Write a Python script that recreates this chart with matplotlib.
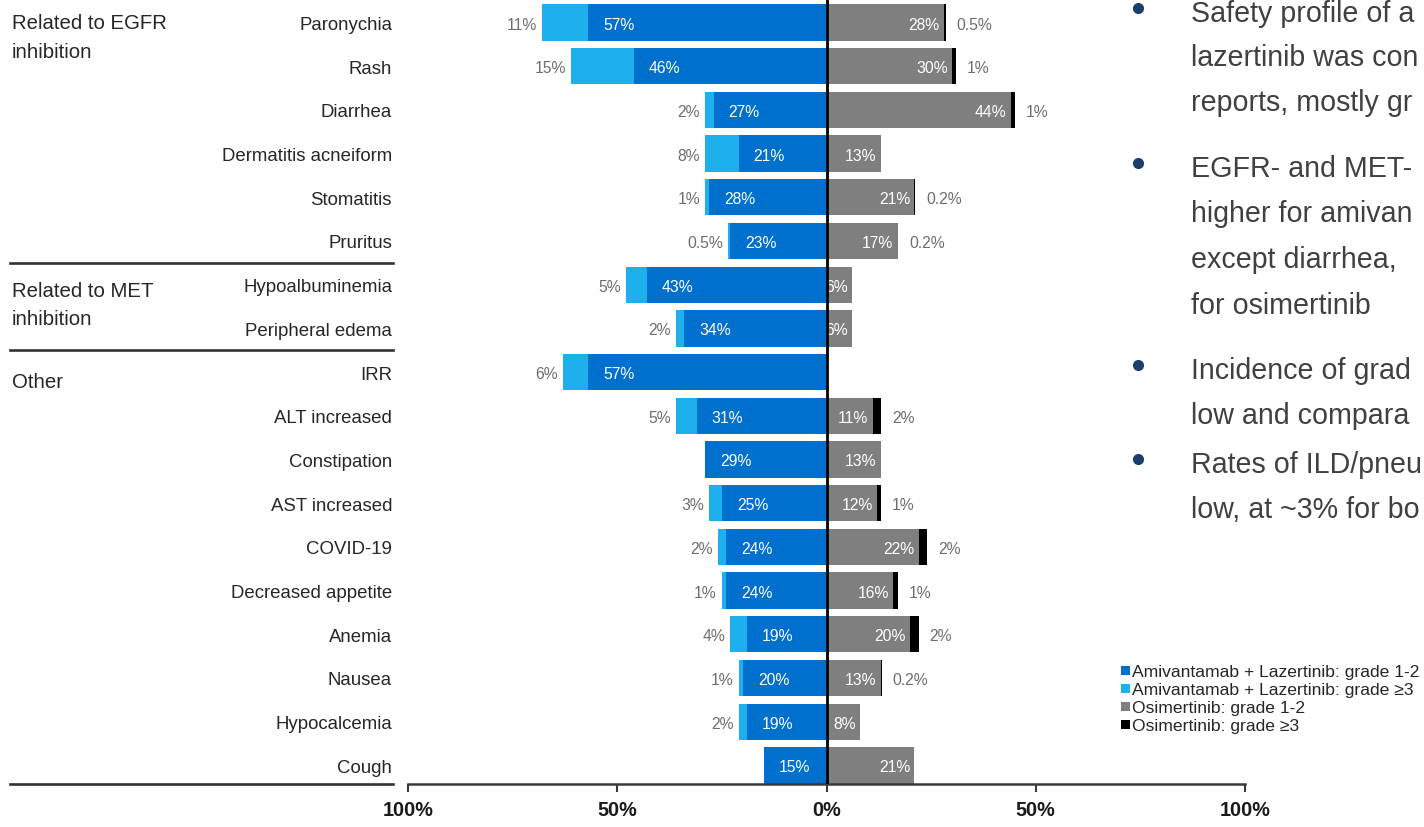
import matplotlib
matplotlib.use("Agg")
import numpy as np
import matplotlib.pyplot as plt
from matplotlib import font_manager as fm
from matplotlib.transforms import blended_transform_factory
from matplotlib.lines import Line2D
from matplotlib.patches import Rectangle

# ---------------- data ----------------
categories = ["Paronychia", "Rash", "Diarrhea", "Dermatitis acneiform", "Stomatitis",
              "Pruritus", "Hypoalbuminemia", "Peripheral edema", "IRR", "ALT increased",
              "Constipation", "AST increased", "COVID-19", "Decreased appetite", "Anemia",
              "Nausea", "Hypocalcemia", "Cough"]
ami_grade12 = [57, 46, 27, 21, 28, 23, 43, 34, 57, 31, 29, 25, 24, 24, 19, 20, 19, 15]
ami_grade3 = [11, 15, 2, 8, 1, 0.5, 5, 2, 6, 5, 0, 3, 2, 1, 4, 1, 2, 0]
osi_grade12 = [28, 30, 44, 13, 21, 17, 6, 6, 0, 11, 13, 12, 22, 16, 20, 13, 8, 21]
osi_grade3 = [0.5, 1, 1, 0, 0.2, 0.2, 0, 0, 0, 2, 0, 1, 2, 1, 2, 0.2, 0, 0]

group_names = [["Related to EGFR", "inhibition"], ["Related to MET", "inhibition"], ["Other"]]
group_first_row = [0, 6, 8]
group_separators = [5.5, 7.5]

xtick_values = [-100, -50, 0, 50, 100]
xtick_labels = ["100%", "50%", "0%", "50%", "100%"]

legend_labels = ["Amivantamab + Lazertinib: grade 1-2", "Amivantamab + Lazertinib: grade \u22653",
                 "Osimertinib: grade 1-2", "Osimertinib: grade \u22653"]

# right-hand bullet text (as far as it is visible in the cropped slide)
bullets = [
    ["Safety profile of a", "lazertinib was con", "reports, mostly gr"],
    ["EGFR- and MET-", "higher for amivan", "except diarrhea,", "for osimertinib"],
    ["Incidence of grad", "low and compara"],
    ["Rates of ILD/pneu", "low, at ~3% for bo"],
]

# ---------------- style ----------------
DB = "#0070CE"
LB = "#1EB0EC"
GR = "#7F7F7F"
BK = "#000000"
colors = [DB, LB, GR, BK]
TXT = "#262626"
OUT = "#6E6E6E"

avail = {f.name for f in fm.fontManager.ttflist}
if "Liberation Sans Narrow" in avail:
    NARROW, NSC = "Liberation Sans Narrow", 1.0
else:
    NARROW, NSC = "Liberation Sans", 0.84
REG = "Liberation Sans" if "Liberation Sans" in avail else "DejaVu Sans"

W, H = 1424, 828
fig = plt.figure(figsize=(W / 100, H / 100), dpi=100)

# axes geometry in pixels
ax_left, ax_right = 408, 1245
row0_px, pitch_px, axis_px = 23.5, 43.7, 785
ax = fig.add_axes([ax_left / W, 1 - axis_px / H, (ax_right - ax_left) / W, axis_px / H])
n = len(categories)
ax.set_xlim(-100, 100)
ax.set_ylim((axis_px - row0_px) / pitch_px, -row0_px / pitch_px)

y = np.arange(n)
a12 = np.array(ami_grade12, float)
a3 = np.array(ami_grade3, float)
o12 = np.array(osi_grade12, float)
o3 = np.array(osi_grade3, float)
bh = 0.83
ax.barh(y, -a12, height=bh, color=DB, linewidth=0)
ax.barh(y, -a3, left=-a12, height=bh, color=LB, linewidth=0)
ax.barh(y, o12, height=bh, color=GR, linewidth=0)
ax.barh(y, o3, left=o12, height=bh, color=BK, linewidth=0)

vfs = 13.5 * NSC
for i in range(n):
    ax.text(-a12[i] + 3.6, i, f"{a12[i]:g}%", ha="left", va="center_baseline", color="white",
            fontsize=vfs, family=NARROW)
    if a3[i] > 0:
        ax.text(-(a12[i] + a3[i]) - 1.2, i, f"{a3[i]:g}%", ha="right", va="center_baseline", color=OUT,
                fontsize=vfs, family=NARROW)
    if o12[i] > 0:
        ax.text(o12[i] - 1.0, i, f"{o12[i]:g}%", ha="right", va="center_baseline", color="white",
                fontsize=vfs, family=NARROW)
    if o3[i] > 0:
        ax.text(o12[i] + o3[i] + 2.6, i, f"{o3[i]:g}%", ha="left", va="center_baseline", color=OUT,
                fontsize=vfs, family=NARROW)

ax.axvline(0, color="black", lw=2.0, zorder=5)

for s in ["top", "left", "right"]:
    ax.spines[s].set_visible(False)
ax.spines["bottom"].set_color("#3A3A3A")
ax.spines["bottom"].set_linewidth(1.8)

ax.set_xticks(xtick_values)
ax.set_xticklabels(xtick_labels, fontweight="bold", fontsize=17 * NSC, family=NARROW, color="#1a1a1a")
ax.tick_params(axis="x", direction="out", length=5.5, width=1.5, color="#3A3A3A", pad=6)
ax.set_yticks(y)
ax.set_yticklabels(categories, fontsize=16 * NSC, family=NARROW, color=TXT)
ax.tick_params(axis="y", length=0, pad=11.5)

# group labels and separators
bt = blended_transform_factory(fig.transFigure, ax.transData)
for yy in group_separators + [ax.get_ylim()[0]]:
    ax.add_line(Line2D([10 / W, 393 / W], [yy, yy], transform=bt, color="#333333", lw=1.9,
                       clip_on=False))
group_offsets = [0.13, 0.26, 0.34]
for names, r, off in zip(group_names, group_first_row, group_offsets):
    for k, line in enumerate(names):
        ax.text(12 / W, r + off + 0.65 * k, line, transform=bt, ha="left", va="baseline",
                fontsize=14.7, family=REG, color=TXT)

# legend (manual)
leg_y = [671, 689, 707, 725]
for lab, c, yy in zip(legend_labels, colors, leg_y):
    fig.add_artist(Rectangle((1121 / W, 1 - (yy + 4.5) / H), 8.5 / W, 9 / H, transform=fig.transFigure,
                             facecolor=c, edgecolor="none"))
    fig.text(1132 / W, 1 - yy / H, lab, ha="left", va="center_baseline", fontsize=12.6, family=REG,
             color=TXT)

# bullet text on the right
bullet_baselines = [[22, 66, 111], [177, 222, 268, 314], [379, 424], [473, 518]]
for lines, bases in zip(bullets, bullet_baselines):
    fig.add_artist(Line2D([1138 / W], [1 - (bases[0] - 13) / H], marker="o", markersize=7,
                          color="#1B3F6B", transform=fig.transFigure))
    for line, b in zip(lines, bases):
        fig.text(1191 / W, 1 - b / H, line, ha="left", va="baseline", fontsize=20.6, family=REG,
                 color="#404040")

fig.savefig("out.png", dpi=100)
